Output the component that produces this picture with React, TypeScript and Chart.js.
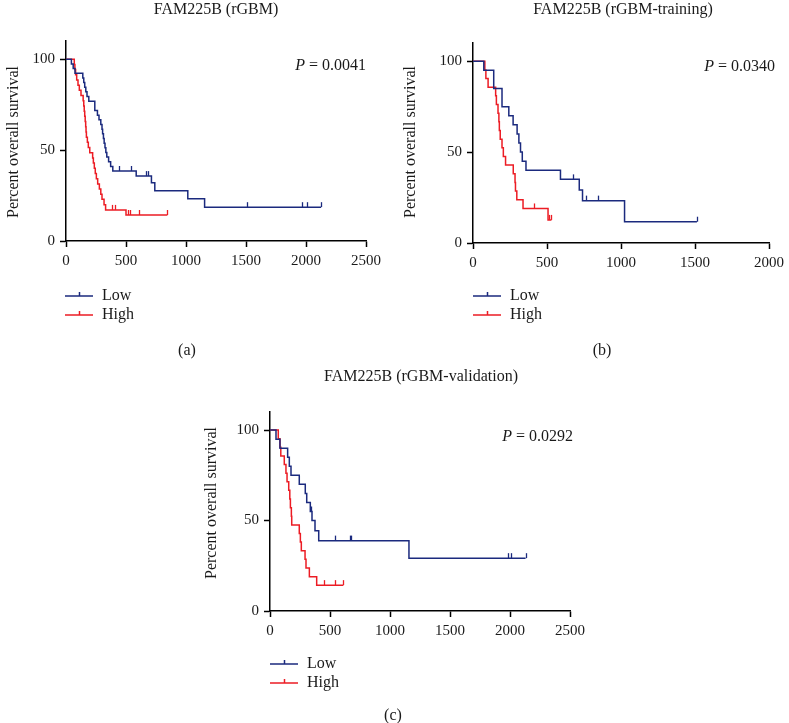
import React, { useEffect, useRef } from "react";
import { Chart, registerables } from "chart.js";

Chart.register(...registerables);

const FONT = '"Liberation Serif", "Times New Roman", serif';
const BLUE = "#1b2a7e";
const RED = "#ec1c24";
const TEXT = "#1a1a1a";

// ---------- Panel (a): FAM225B (rGBM) ----------
const aLowTimes = [45, 60, 75, 140, 148, 156, 165, 175, 190, 240, 262, 275, 290, 300, 305, 312, 318, 325, 332, 340, 355, 372, 390, 585, 712, 740, 1015, 1155];
const aLowSurvival = [97.4, 94.9, 92.3, 89.7, 87.2, 84.6, 82.1, 79.5, 76.9, 71.8, 69.2, 66.7, 64.1, 61.5, 59.0, 56.4, 53.8, 51.3, 48.7, 46.2, 43.6, 41.0, 38.5, 35.7, 32.1, 27.6, 23.3, 18.6];
const aLowCensored = [445, 540, 665, 680, 1505, 1970, 2005, 2125];
const aHighTimes = [69, 74, 80, 89, 100, 111, 125, 143, 148, 152, 156, 160, 164, 167, 170, 178, 186, 198, 222, 228, 236, 244, 253, 264, 278, 290, 300, 317, 330, 500];
const aHighSurvival = [97.1, 94.3, 91.4, 88.6, 85.7, 82.9, 80.0, 77.1, 74.3, 71.4, 68.6, 65.7, 62.9, 60.0, 57.1, 54.3, 51.4, 48.6, 45.7, 42.9, 40.0, 37.1, 34.3, 31.4, 28.6, 25.7, 22.9, 20.0, 17.1, 14.3];
const aHighCensored = [385, 410, 515, 530, 605, 845];

// ---------- Panel (b): FAM225B (rGBM-training) ----------
const bLowTimes = [73, 140, 196, 242, 271, 298, 310, 321, 333, 358, 591, 718, 740, 1024];
const bLowSurvival = [95, 85, 75, 70, 65, 60, 55, 50, 45, 40, 35, 29.2, 23.3, 11.7];
const bLowCensored = [676, 762, 847, 1513];
const bHighTimes = [80, 87, 102, 153, 158, 169, 175, 178, 184, 196, 205, 220, 272, 284, 287, 296, 338, 507];
const bHighSurvival = [95.2, 90.5, 85.7, 81.0, 76.2, 71.4, 66.7, 61.9, 57.1, 52.4, 47.6, 42.9, 38.1, 33.3, 28.6, 23.8, 19.0, 12.7];
const bHighCensored = [410, 515, 530];

// ---------- Panel (c): FAM225B (rGBM-validation) ----------
const cLowTimes = [50, 83, 147, 161, 175, 244, 294, 306, 336, 350, 375, 406, 1158];
const cLowSurvival = [95, 90, 85, 80, 75, 70, 65, 60, 55, 50, 44.4, 38.9, 29.2];
const cLowCensored = [345, 540, 665, 678, 1985, 2008, 2130];
const cHighTimes = [69, 83, 90, 119, 133, 142, 156, 165, 170, 178, 181, 244, 253, 261, 292, 300, 328, 389];
const cHighSurvival = [95.2, 90.5, 85.7, 81.0, 76.2, 71.4, 66.7, 61.9, 57.1, 52.4, 47.6, 42.9, 38.1, 33.3, 28.6, 23.8, 19.0, 14.3];
const cHighCensored = [453, 544, 611];

const yTickValues = [0, 50, 100];
const groupLabels = ["Low", "High"];
const titles = ["FAM225B (rGBM)", "FAM225B (rGBM-training)", "FAM225B (rGBM-validation)"];
const pValues = ["0.0041", "0.0340", "0.0292"];
const xMaxes = [2500, 2000, 2500];
const yAxisTitle = "Percent overall survival";
const tags = ["(a)", "(b)", "(c)"];

type Series = { label: string; color: string; times: number[]; surv: number[]; censored: number[] };

function survivalAt(times: number[], surv: number[], t: number) {
  let s = 100;
  for (let i = 0; i < times.length; i++) if (times[i] <= t) s = surv[i];
  return s;
}

function buildLine(s: Series) {
  const pts = [
    ...s.times.map((t, i) => ({ x: t, y: s.surv[i] })),
    ...s.censored.map((t) => ({ x: t, y: survivalAt(s.times, s.surv, t) })),
  ].sort((a, b) => a.x - b.x);
  return [{ x: 0, y: 100 }, ...pts];
}

type Panel = {
  title: string;
  p: string;
  xMax: number;
  series: Series[];
  box: { left: number; top: number; width: number; height: number };
  area: { left: number; top: number; right: number; bottom: number };
  titlePos: [number, number];
  yLabelPos: [number, number];
  pPos: [number, number];
  legend: { x1: number; x2: number; textX: number; y1: number; y2: number };
  tag: string;
  tagPos: [number, number];
};

const panels: Panel[] = [
  {
    title: titles[0], p: pValues[0], xMax: xMaxes[0],
    series: [
      { label: groupLabels[0], color: BLUE, times: aLowTimes, surv: aLowSurvival, censored: aLowCensored },
      { label: groupLabels[1], color: RED, times: aHighTimes, surv: aHighSurvival, censored: aHighCensored },
    ],
    box: { left: 0, top: 0, width: 390, height: 360 },
    area: { left: 66, top: 41, right: 366, bottom: 241 },
    titlePos: [216, 10], yLabelPos: [14, 142], pPos: [366, 66],
    legend: { x1: 65, x2: 93, textX: 102, y1: 296, y2: 315 },
    tag: tags[0], tagPos: [187, 351],
  },
  {
    title: titles[1], p: pValues[1], xMax: xMaxes[1],
    series: [
      { label: groupLabels[0], color: BLUE, times: bLowTimes, surv: bLowSurvival, censored: bLowCensored },
      { label: groupLabels[1], color: RED, times: bHighTimes, surv: bHighSurvival, censored: bHighCensored },
    ],
    box: { left: 395, top: 0, width: 394, height: 360 },
    area: { left: 78, top: 43, right: 378, bottom: 243 },
    titlePos: [228, 10], yLabelPos: [16, 142], pPos: [380, 67],
    legend: { x1: 78, x2: 106, textX: 115, y1: 296, y2: 315 },
    tag: tags[1], tagPos: [207, 351],
  },
  {
    title: titles[2], p: pValues[2], xMax: xMaxes[2],
    series: [
      { label: groupLabels[0], color: BLUE, times: cLowTimes, surv: cLowSurvival, censored: cLowCensored },
      { label: groupLabels[1], color: RED, times: cHighTimes, surv: cHighSurvival, censored: cHighCensored },
    ],
    box: { left: 195, top: 360, width: 400, height: 363 },
    area: { left: 75, top: 52, right: 375, bottom: 251 },
    titlePos: [226, 17], yLabelPos: [17, 143], pPos: [378, 77],
    legend: { x1: 75, x2: 103, textX: 112, y1: 304, y2: 323 },
    tag: tags[2], tagPos: [198, 356],
  },
];

const Y_W = 50;
const X_H = 40;

function KMChart({ panel }: { panel: Panel }) {
  const ref = useRef<HTMLCanvasElement | null>(null);
  useEffect(() => {
    if (!ref.current) return;
    const { box, area } = panel;
    const decor = {
      id: "kmDecor",
      afterDatasetsDraw(chart: any) {
        const ctx = chart.ctx;
        const xs = chart.scales.x;
        const ys = chart.scales.y;
        ctx.save();
        panel.series.forEach((s) => {
          ctx.strokeStyle = s.color;
          ctx.lineWidth = 1.3;
          s.censored.forEach((t) => {
            const px = Math.round(xs.getPixelForValue(t)) + 0.5;
            const py = ys.getPixelForValue(survivalAt(s.times, s.surv, t));
            ctx.beginPath();
            ctx.moveTo(px, py);
            ctx.lineTo(px, py - 5);
            ctx.stroke();
          });
        });
        ctx.restore();
      },
      afterDraw(chart: any) {
        const ctx = chart.ctx;
        ctx.save();
        ctx.fillStyle = TEXT;
        ctx.font = `16px ${FONT}`;
        ctx.textAlign = "center";
        ctx.textBaseline = "middle";
        ctx.fillText(panel.title, panel.titlePos[0], panel.titlePos[1]);
        ctx.fillText(panel.tag, panel.tagPos[0], panel.tagPos[1]);
        // y axis title
        ctx.save();
        ctx.translate(panel.yLabelPos[0], panel.yLabelPos[1]);
        ctx.rotate(-Math.PI / 2);
        ctx.fillText(yAxisTitle, 0, 0);
        ctx.restore();
        // P value
        ctx.textAlign = "left";
        const rest = ` = ${panel.p}`;
        ctx.font = `16px ${FONT}`;
        const wRest = ctx.measureText(rest).width;
        ctx.font = `italic 16px ${FONT}`;
        const wP = ctx.measureText("P").width;
        const x0 = panel.pPos[0] - wRest - wP;
        ctx.fillText("P", x0, panel.pPos[1]);
        ctx.font = `16px ${FONT}`;
        ctx.fillText(rest, x0 + wP, panel.pPos[1]);
        // legend
        const lg = panel.legend;
        [lg.y1, lg.y2].forEach((ly, i) => {
          const s = panel.series[i];
          ctx.strokeStyle = s.color;
          ctx.lineWidth = 1.5;
          ctx.beginPath();
          ctx.moveTo(lg.x1, ly);
          ctx.lineTo(lg.x2, ly);
          const mid = Math.round((lg.x1 + lg.x2) / 2) + 0.5;
          ctx.moveTo(mid, ly);
          ctx.lineTo(mid, ly - 4);
          ctx.stroke();
          ctx.fillStyle = TEXT;
          ctx.fillText(s.label, lg.textX, ly);
        });
        ctx.restore();
      },
    };

    const tickFont = { family: FONT, size: 15 };
    const chart = new Chart(ref.current, {
      type: "line",
      data: {
        datasets: panel.series.map((s) => ({
          label: s.label,
          data: buildLine(s),
          borderColor: s.color,
          backgroundColor: s.color,
          borderWidth: 1.5,
          pointRadius: 0,
          fill: false,
          stepped: true,
        })),
      },
      options: {
        responsive: false,
        animation: false,
        events: [],
        layout: {
          padding: {
            left: area.left - Y_W,
            right: box.width - area.right,
            top: area.top,
            bottom: box.height - area.bottom - X_H,
          },
        },
        plugins: {
          legend: { display: false },
          tooltip: { enabled: false },
          title: { display: false },
        },
        scales: {
          x: {
            type: "linear",
            min: 0,
            max: panel.xMax,
            ticks: {
              stepSize: 500,
              color: TEXT,
              font: tickFont,
              padding: 5,
              maxRotation: 0,
              autoSkip: false,
              callback: (v: any) => String(v),
            },
            grid: { display: true, drawOnChartArea: false, drawTicks: true, tickLength: 6, tickWidth: 1.5, tickColor: "#000" },
            border: { display: true, color: "#000", width: 1.5 },
            afterFit: (s: any) => {
              s.height = X_H;
            },
          },
          y: {
            type: "linear",
            min: 0,
            max: 110,
            ticks: { color: TEXT, font: tickFont, padding: 5, callback: (v: any) => String(v) },
            afterBuildTicks: (s: any) => {
              s.ticks = yTickValues.map((v) => ({ value: v }));
            },
            grid: { display: true, drawOnChartArea: false, drawTicks: true, tickLength: 6, tickWidth: 1.5, tickColor: "#000" },
            border: { display: true, color: "#000", width: 1.5 },
            afterFit: (s: any) => {
              s.width = Y_W;
            },
          },
        },
      } as any,
      plugins: [decor],
    });
    return () => chart.destroy();
  }, [panel]);

  return (
    <canvas
      ref={ref}
      width={panel.box.width}
      height={panel.box.height}
      style={{
        position: "absolute",
        left: panel.box.left,
        top: panel.box.top,
        width: panel.box.width,
        height: panel.box.height,
      }}
    />
  );
}

export default function App() {
  return (
    <div
      style={{
        position: "fixed",
        left: 0,
        top: 0,
        width: 789,
        height: 723,
        background: "#fff",
        overflow: "hidden",
      }}
    >
      {panels.map((p, i) => (
        <KMChart key={i} panel={p} />
      ))}
    </div>
  );
}
